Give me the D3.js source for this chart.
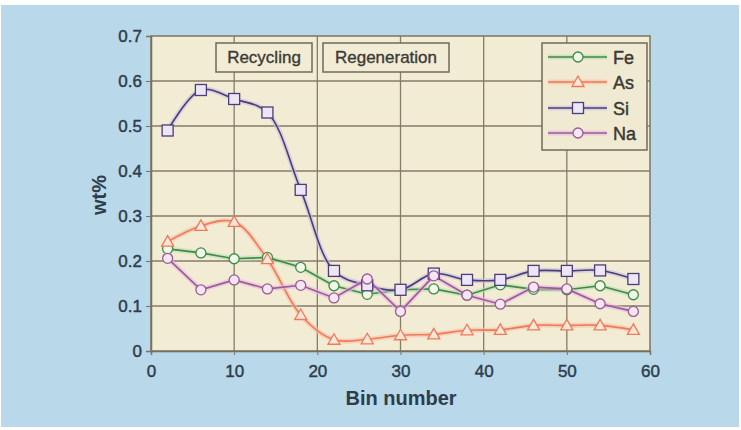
<!DOCTYPE html>
<html><head><meta charset="utf-8">
<script src="https://cdn.jsdelivr.net/npm/d3@7"></script>
<style>body{margin:0;background:#fff}svg{display:block}</style>
</head><body>
<script>
const bins = [2,6,10,14,18,22,26,30,34,38,42,46,50,54,58];
const fe = [0.227,0.218,0.205,0.208,0.186,0.145,0.126,0.136,0.138,0.124,0.147,0.137,0.136,0.145,0.125];
const as = [0.243,0.278,0.287,0.204,0.080,0.025,0.026,0.035,0.037,0.046,0.047,0.057,0.057,0.057,0.047];
const si = [0.490,0.580,0.560,0.530,0.358,0.178,0.146,0.136,0.172,0.158,0.158,0.178,0.178,0.179,0.160];
const na = [0.206,0.136,0.158,0.138,0.146,0.118,0.160,0.088,0.167,0.124,0.104,0.142,0.138,0.105,0.088];
const xTicks = [0,10,20,30,40,50,60];
const yTicks = [0,0.1,0.2,0.3,0.4,0.5,0.6,0.7];
const seriesNames = ["Fe","As","Si","Na"];
const annotations = ["Recycling","Regeneration"];

const W=741,H=430;
const svg=d3.select("body").append("svg").attr("width",W).attr("height",H);
svg.append("rect").attr("x",1).attr("y",5).attr("width",738).attr("height",422).attr("fill","#b9d8ea");

const L=151,R=650,T=36,B=351;
const x=d3.scaleLinear().domain([0,60]).range([L,R]);
const y=d3.scaleLinear().domain([0,0.7]).range([B,T]);
const font="Liberation Sans, Arial, sans-serif";
const txt="#2d3d4c";

svg.append("rect").attr("x",L).attr("y",T).attr("width",R-L).attr("height",B-T).attr("fill","#f3ecd4");

const g=svg.append("g");
g.selectAll(".gx").data(xTicks.filter(d=>d>0&&d<60)).join("line")
 .attr("x1",d=>x(d)).attr("x2",d=>x(d)).attr("y1",T).attr("y2",B)
 .attr("stroke","#857c68").attr("stroke-width",1.3);
g.selectAll(".gy").data(yTicks.filter(d=>d>0&&d<0.7)).join("line")
 .attr("x1",L).attr("x2",R).attr("y1",d=>y(d)).attr("y2",d=>y(d))
 .attr("stroke","#857c68").attr("stroke-width",1.3);

const ax=svg.append("g").attr("transform",`translate(0,${B})`)
 .call(d3.axisBottom(x).tickValues(xTicks).tickSize(4).tickPadding(10).tickFormat(d3.format("d")));
const ay=svg.append("g").attr("transform",`translate(${L},0)`)
 .call(d3.axisLeft(y).tickValues(yTicks).tickSize(5).tickPadding(4).tickFormat(d=>d===0?"0":d3.format(".1f")(d)));
[ax,ay].forEach(a=>{
  a.selectAll("text").attr("font-family",font).attr("font-size",17).attr("fill",txt)
   .attr("stroke",txt).attr("stroke-width",0.45);
  a.selectAll("line").attr("stroke","#7a7462");
  a.select(".domain").attr("stroke","#6e6856").attr("stroke-width",1.5);
});
svg.append("rect").attr("x",L).attr("y",T).attr("width",R-L).attr("height",B-T)
 .attr("fill","none").attr("stroke","#7a7462").attr("stroke-width",1.5);

const annX=[[216,312],[323,449]];
annotations.forEach((a,i)=>{
  svg.append("rect").attr("x",annX[i][0]).attr("y",43).attr("width",annX[i][1]-annX[i][0]).attr("height",29)
   .attr("fill","#f3ecd4").attr("stroke","#6e6a5c").attr("stroke-width",1.5);
  svg.append("text").attr("x",(annX[i][0]+annX[i][1])/2).attr("y",63).attr("text-anchor","middle")
   .attr("font-family",font).attr("font-size",17).attr("fill","#3a3a36")
   .attr("stroke","#3a3a36").attr("stroke-width",0.35).text(a);
});

const data=[fe,as,si,na];
const colors=["#3f8a48","#ee7a58","#4a3d78","#9a5a98"];
const halo=["#b7e0b0","#f8c0a8","#c8c0e0","#e8b8e0"];
const fills=["#f0f8e8","#fbe6dc","#ece6f6","#f6e6f2"];
const curves=[d3.curveLinear,d3.curveCatmullRom,d3.curveCatmullRom.alpha(0.5),d3.curveLinear];
const shapes=["circle","triangle","square","circle"];

function marker(sel,shape,cx,cy,col,fill){
  if(shape==="circle") sel.append("circle").attr("cx",cx).attr("cy",cy).attr("r",5);
  else if(shape==="square") sel.append("rect").attr("x",cx-5.5).attr("y",cy-5.5).attr("width",11).attr("height",11);
  else sel.append("path").attr("d",`M${cx},${cy-6}L${cx+6},${cy+4.5}L${cx-6},${cy+4.5}Z`);
  sel.selectAll(":last-child").attr("fill",fill).attr("stroke",col).attr("stroke-width",1.3);
}

data.forEach((vals,i)=>{
  const pts=bins.map((b,j)=>[b,vals[j]]);
  const line=d3.line().x(d=>x(d[0])).y(d=>y(d[1])).curve(curves[i]);
  svg.append("path").attr("d",line(pts)).attr("fill","none").attr("stroke",halo[i]).attr("stroke-width",5).attr("opacity",0.6);
  svg.append("path").attr("d",line(pts)).attr("fill","none").attr("stroke",colors[i]).attr("stroke-width",1.6);
});
data.forEach((vals,i)=>{
  const mg=svg.append("g");
  bins.forEach((b,j)=>{ const s=mg.append("g"); marker(s,shapes[i],x(b),y(vals[j]),colors[i],fills[i]); });
});

svg.append("rect").attr("x",542).attr("y",43).attr("width",105).attr("height",107)
 .attr("fill","#f1ead2").attr("stroke","#6e6a5c").attr("stroke-width",1.5);
const legY=[57,82,108,133];
seriesNames.forEach((n,i)=>{
  const ly=legY[i];
  svg.append("line").attr("x1",548).attr("x2",607).attr("y1",ly).attr("y2",ly).attr("stroke",halo[i]).attr("stroke-width",5).attr("opacity",0.6);
  svg.append("line").attr("x1",548).attr("x2",607).attr("y1",ly).attr("y2",ly).attr("stroke",colors[i]).attr("stroke-width",1.6);
  const s=svg.append("g"); marker(s,shapes[i],578,ly,colors[i],fills[i]);
  svg.append("text").attr("x",613).attr("y",ly+6.5).attr("font-family",font).attr("font-size",18).attr("fill","#3a3a36")
   .attr("stroke","#3a3a36").attr("stroke-width",0.45).text(n);
});

svg.append("text").attr("x",401).attr("y",405).attr("text-anchor","middle").attr("font-family",font)
 .attr("font-size",20).attr("font-weight","bold").attr("fill",txt).text("Bin number");
svg.append("text").attr("transform","translate(106,195) rotate(-90)").attr("text-anchor","middle").attr("font-family",font)
 .attr("font-size",20).attr("font-weight","bold").attr("fill",txt).text("wt%");
</script>
</body></html>
